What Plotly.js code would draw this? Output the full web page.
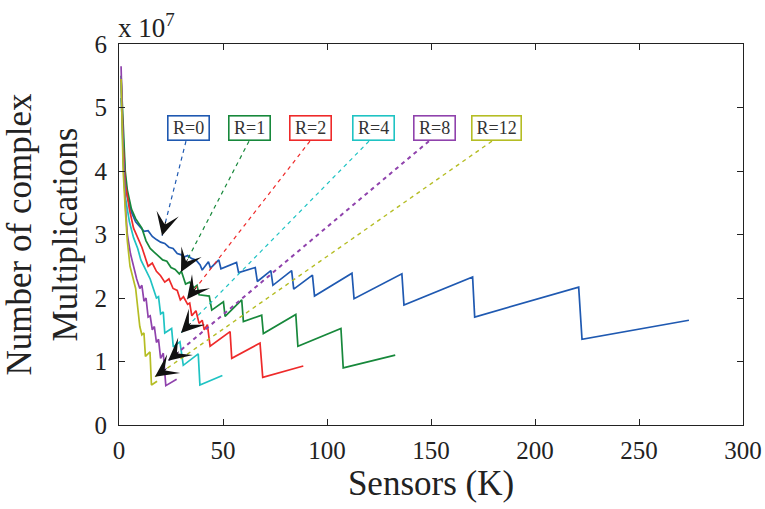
<!DOCTYPE html>
<html>
<head>
<meta charset="utf-8">
<script src="https://cdn.plot.ly/plotly-3.0.1.min.js"></script>
<style>html,body{margin:0;padding:0;background:#fff;}#chart{width:765px;height:509px;}</style>
</head>
<body>
<div id="chart"></div>
<script>
// Sensors K and number of complex multiplications (in units of 1e7)
const xR0 = [1,2,3,4,6,8,10,12,14,16,18,20,22,24,26,28,30,31,33,35,37,39,40,43,44,48,49,56.5,57.5,65.5,66.5,73,74,83,84,93,94,112,113,136,137,170,171,221,222.6,274];
const yR0 = [5.15,4.4,3.9,3.6,3.35,3.2,3.12,3.05,3.06,2.97,2.92,2.88,2.86,2.8,2.78,2.7,2.68,2.64,2.67,2.62,2.6,2.52,2.44,2.57,2.47,2.6,2.46,2.56,2.4,2.48,2.26,2.43,2.2,2.43,2.14,2.36,2.03,2.39,1.99,2.38,1.89,2.33,1.70,2.17,1.35,1.65];
const xR1 = [1,2,3,4,6,8,11,13,15,17,19,21,23,25,27,29,30,32,34,36,37.5,38.5,43.4,44.6,50.2,51,59,59.8,68.6,69.4,85,86,106.7,107.8,132.8];
const yR1 = [5.5,4.6,4.0,3.7,3.4,3.25,3.1,2.9,2.78,2.72,2.66,2.6,2.58,2.48,2.45,2.38,2.42,2.22,2.25,2.16,2.2,2.05,2.03,1.81,1.94,1.71,1.97,1.63,1.73,1.44,1.74,1.24,1.52,0.90,1.10];
const xR2 = [1,2,3,5,7,9,11,13,14,16,18,20,22,24,26,28,29.5,31,33,34,35,37,38.5,40,41,42.5,43.8,53.4,54.2,67.8,69.1,88.6];
const yR2 = [5.45,4.4,3.8,3.4,3.1,2.95,2.8,2.6,2.5,2.55,2.42,2.35,2.25,2.3,2.15,2.12,1.97,2.02,1.9,1.92,1.72,1.8,1.6,1.65,1.5,1.58,1.24,1.47,1.05,1.29,0.75,0.93];
const xR4 = [1,2,3,5,7,9,10.5,12,13.5,15,16.5,18,19,20,21.3,22,25.3,26.1,29.3,30.9,38.1,38.9,49.7];
const yR4 = [5.4,4.2,3.6,3.2,2.95,2.78,2.6,2.5,2.4,2.3,2.15,2.0,2.02,1.75,1.78,1.45,1.52,1.23,1.31,0.94,1.12,0.63,0.78];
const xR8 = [1,2,3,4,5.5,7,8.5,10,11,12,13,14,15,16,17,18,19,20,21.3,22.5,27.7];
const yR8 = [5.65,4.3,3.5,3.0,2.7,2.5,2.3,2.15,2.2,1.95,2.0,1.7,1.72,1.5,1.55,1.3,1.35,1.05,1.13,0.62,0.72];
const xR12 = [1,2,3,4,5.3,6.5,8,9,10,11,12,12.7,14.9,15.6,18.3];
const yR12 = [5.45,4.0,3.4,2.9,2.5,2.35,2.15,1.85,1.55,1.42,1.45,1.08,1.15,0.63,0.69];

const seriesNames = ['R=0','R=1','R=2','R=4','R=8','R=12'];
const xTicks = [0,50,100,150,200,250,300];
const yTicks = [0,1,2,3,4,5,6];

// label boxes and arrow tips (data coordinates)
const labelX = [33.2, 62.7, 92.3, 122.5, 151.8, 181.6];
const labelY = [4.68, 4.68, 4.68, 4.68, 4.68, 4.68];
const tailX = [32.2, 62.5, 91.8, 120.2, 149, 179.3];
const tailY = [4.47, 4.47, 4.47, 4.47, 4.47, 4.47];
const tipX = [20.7, 29.8, 32.7, 29.8, 23.6, 17.3];
const tipY = [2.98, 2.41, 1.98, 1.45, 1.01, 0.76];

const colors = ['#1f59b1','#17883b','#ee2a2a','#1fc3c3','#8f42ac','#b5bd24'];
const dashW = [1.2,1.2,1.2,1.2,2,1.4];
const boxW = [36,36,36,36,36,44];

const xs = [xR0,xR1,xR2,xR4,xR8,xR12];
const ys = [yR0,yR1,yR2,yR4,yR8,yR12];

const FONT = 'Liberation Serif, Times New Roman, serif';
const W = 765, H = 509, mL = 119, mR = 22, mT = 44, mB = 84;
const pxX = (W - mL - mR) / 300, pxY = (H - mT - mB) / 6;

const traces = xs.map((x, i) => ({
  x: x, y: ys[i], type: 'scatter', mode: 'lines', name: seriesNames[i],
  line: {color: colors[i], width: 1.7}, showlegend: false, hoverinfo: 'x+y'
}));

const shapes = seriesNames.map((n, i) => ({
  type: 'line', xref: 'x', yref: 'y', x0: tailX[i], y0: tailY[i], x1: tipX[i], y1: tipY[i],
  line: {color: colors[i], width: dashW[i], dash: '4px,4px'}, layer: 'above'
}));

const annotations = [];
seriesNames.forEach((n, i) => {
  annotations.push({
    xref: 'x', yref: 'y', x: labelX[i], y: labelY[i], text: n, showarrow: false,
    font: {family: FONT, size: 18, color: '#333'},
    bordercolor: colors[i], borderwidth: 1.6, borderpad: 2, bgcolor: '#fff',
    width: boxW[i], height: 19, align: 'center', valign: 'middle'
  });
  const dx = (tailX[i] - tipX[i]) * pxX, dy = -(tailY[i] - tipY[i]) * pxY;
  const len = Math.sqrt(dx * dx + dy * dy), L = 16;
  annotations.push({
    xref: 'x', yref: 'y', x: tipX[i], y: tipY[i], text: '',
    showarrow: true, arrowhead: 3, arrowsize: 3.8, arrowwidth: 1, arrowcolor: '#111',
    ax: dx / len * L, ay: dy / len * L, standoff: 0
  });
});
annotations.push({
  xref: 'paper', yref: 'paper', x: 0, y: 1, xanchor: 'left', yanchor: 'bottom', yshift: -1, xshift: -3,
  text: 'x 10<sup>7</sup>', showarrow: false, font: {family: FONT, size: 27, color: '#222'}
});

const axisCommon = {
  showline: true, mirror: 'ticks', linecolor: '#222', linewidth: 1, ticks: 'inside', ticklen: 6,
  tickcolor: '#222', showgrid: false, zeroline: false, tickfont: {family: FONT, size: 25, color: '#222'}
};

const layout = {
  width: W, height: H, margin: {l: mL, r: mR, t: mT, b: mB}, paper_bgcolor: '#fff', plot_bgcolor: '#fff',
  xaxis: Object.assign({}, axisCommon, {range: [0, 300], tickvals: xTicks, ticktext: xTicks.map(String), ticklabelstandoff: 3,
    title: {text: 'Sensors (K)', font: {family: FONT, size: 35, color: '#222'}, standoff: 5}}),
  yaxis: Object.assign({}, axisCommon, {range: [0, 6], tickvals: yTicks, ticktext: yTicks.map(String), ticklabelstandoff: 6,
    title: {text: 'Number of complex<br>Multiplications', font: {family: FONT, size: 35, color: '#222'}, standoff: 10}}),
  shapes: shapes, annotations: annotations, showlegend: false
};

Plotly.newPlot('chart', traces, layout, {displayModeBar: false, staticPlot: true});
</script>
</body>
</html>
